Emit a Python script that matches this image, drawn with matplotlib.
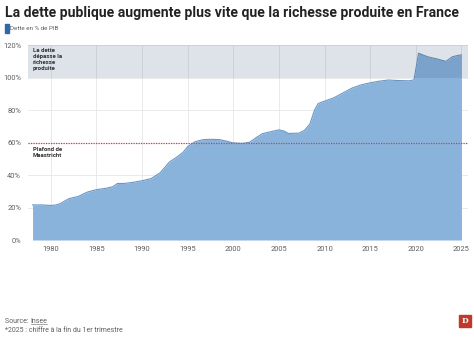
import matplotlib.pyplot as plt
from matplotlib.patches import Rectangle

plt.rcParams['font.family'] = ['Roboto', 'DejaVu Sans']

# dette publique en % du PIB (lecture du graphique)
years = [1978, 1979, 1980, 1980.5, 1981, 1982, 1983, 1984, 1985, 1986, 1986.8,
         1987.3, 1988, 1989, 1990, 1991, 1992, 1993, 1993.8, 1994.5, 1995,
         1995.8, 1996.7, 1997.5, 1998.5, 1999.3, 2000, 2001, 2001.8, 2002.5,
         2003.2, 2004.2, 2005, 2005.6, 2006, 2007.2, 2007.8, 2008.4, 2008.9,
         2009.3, 2010, 2011, 2012, 2013, 2014, 2015, 2016, 2017, 2018, 2019.3,
         2019.8, 2020.3, 2021.3, 2022.3, 2023.3, 2024, 2024.5, 2025]
debt = [21.6, 21.6, 21.3, 21.5, 22.3, 25.5, 26.8, 29.5, 31.0, 31.8, 32.8,
        34.8, 34.8, 35.5, 36.5, 37.8, 41.5, 48.0, 51.0, 54.0, 57.5,
        60.5, 61.8, 62.0, 61.8, 60.8, 59.8, 59.5, 60.2, 63.0,
        65.5, 66.8, 67.8, 67.0, 65.6, 65.8, 67.5, 71.5, 80.0,
        84.0, 85.5, 87.5, 90.5, 93.5, 95.5, 96.8, 97.8, 98.5, 98.2, 98.0,
        98.6, 115.0, 112.8, 111.5, 110.0, 112.8, 113.5, 114.0]

xticks = [1980, 1985, 1990, 1995, 2000, 2005, 2010, 2015, 2020, 2025]
yticks = [0, 20, 40, 60, 80, 100, 120]
maastricht = 60

grey = '#5f5f5f'
blue = '#8ab3dc'

fig = plt.figure(figsize=(4.74, 3.39), dpi=100)
ax = fig.add_axes([0.059, 0.292, 0.928, 0.575])

ax.fill_between(years, debt, 0, color=blue, lw=0, zorder=2)
ax.plot(years, debt, color='#6b96c3', lw=0.8, zorder=3)

# zone au-dessus de 100 %
ax.add_patch(Rectangle((1977.5, 100), 48.2, 20, color='#28466e', alpha=0.15,
                       lw=0, zorder=4))
ax.axhline(maastricht, color='#c8463a', lw=0.9, ls=(0, (1, 1)), zorder=5)

ax.set_xlim(1977.5, 2025.7)
ax.set_ylim(0, 120)
ax.set_xticks(xticks)
ax.set_yticks(yticks)
ax.set_yticklabels([f'{v}%' for v in yticks])
ax.tick_params(length=0, labelsize=5.4, colors=grey, pad=4)
ax.tick_params(axis='y', pad=5)
ax.grid(color='#e6e6e6', lw=0.6, zorder=0)
ax.set_axisbelow(True)
for s in ax.spines.values():
    s.set_visible(False)

ax.text(1978, 118.5, 'La dette\ndépasse la\nrichesse\nproduite', fontsize=4.3,
        fontweight='bold', color='#333333', va='top', linespacing=1.3, zorder=6)
ax.text(1978, 57.5, 'Plafond de\nMaastricht', fontsize=4.3,
        fontweight='bold', color='#333333', va='top', linespacing=1.3, zorder=6)

fig.text(0.011, 0.962, 'La dette publique augmente plus vite que la richesse produite en France',
         fontsize=10.1, fontweight='bold', color='#222222', va='center')
fig.add_artist(Rectangle((0.011, 0.903), 0.008, 0.026, color='#2f6aa6',
                         transform=fig.transFigure))
fig.text(0.022, 0.916, 'Dette en % de PIB', fontsize=4.5, color=grey, va='center')

src = fig.text(0.011, 0.053, 'Source: ', fontsize=5, color=grey, va='center')
fig.canvas.draw()
bb = src.get_window_extent().transformed(fig.transFigure.inverted())
ins = fig.text(bb.x1, 0.053, 'Insee', fontsize=5, color=grey, va='center')
fig.canvas.draw()
ib = ins.get_window_extent().transformed(fig.transFigure.inverted())
fig.add_artist(plt.Line2D([ib.x0, ib.x1], [ib.y0 + 0.002, ib.y0 + 0.002],
                          color=grey, lw=0.4, transform=fig.transFigure))
fig.text(0.011, 0.026, '*2025 : chiffre à la fin du 1er trimestre', fontsize=5,
         color=grey, va='center')

fig.add_artist(Rectangle((0.969, 0.035), 0.025, 0.036, color='#c0392b',
                         transform=fig.transFigure))
fig.text(0.9815, 0.053, 'D', fontsize=5.5, fontweight='bold', color='white',
         ha='center', va='center', family='DejaVu Serif')

fig.savefig('out.png', dpi=100)
